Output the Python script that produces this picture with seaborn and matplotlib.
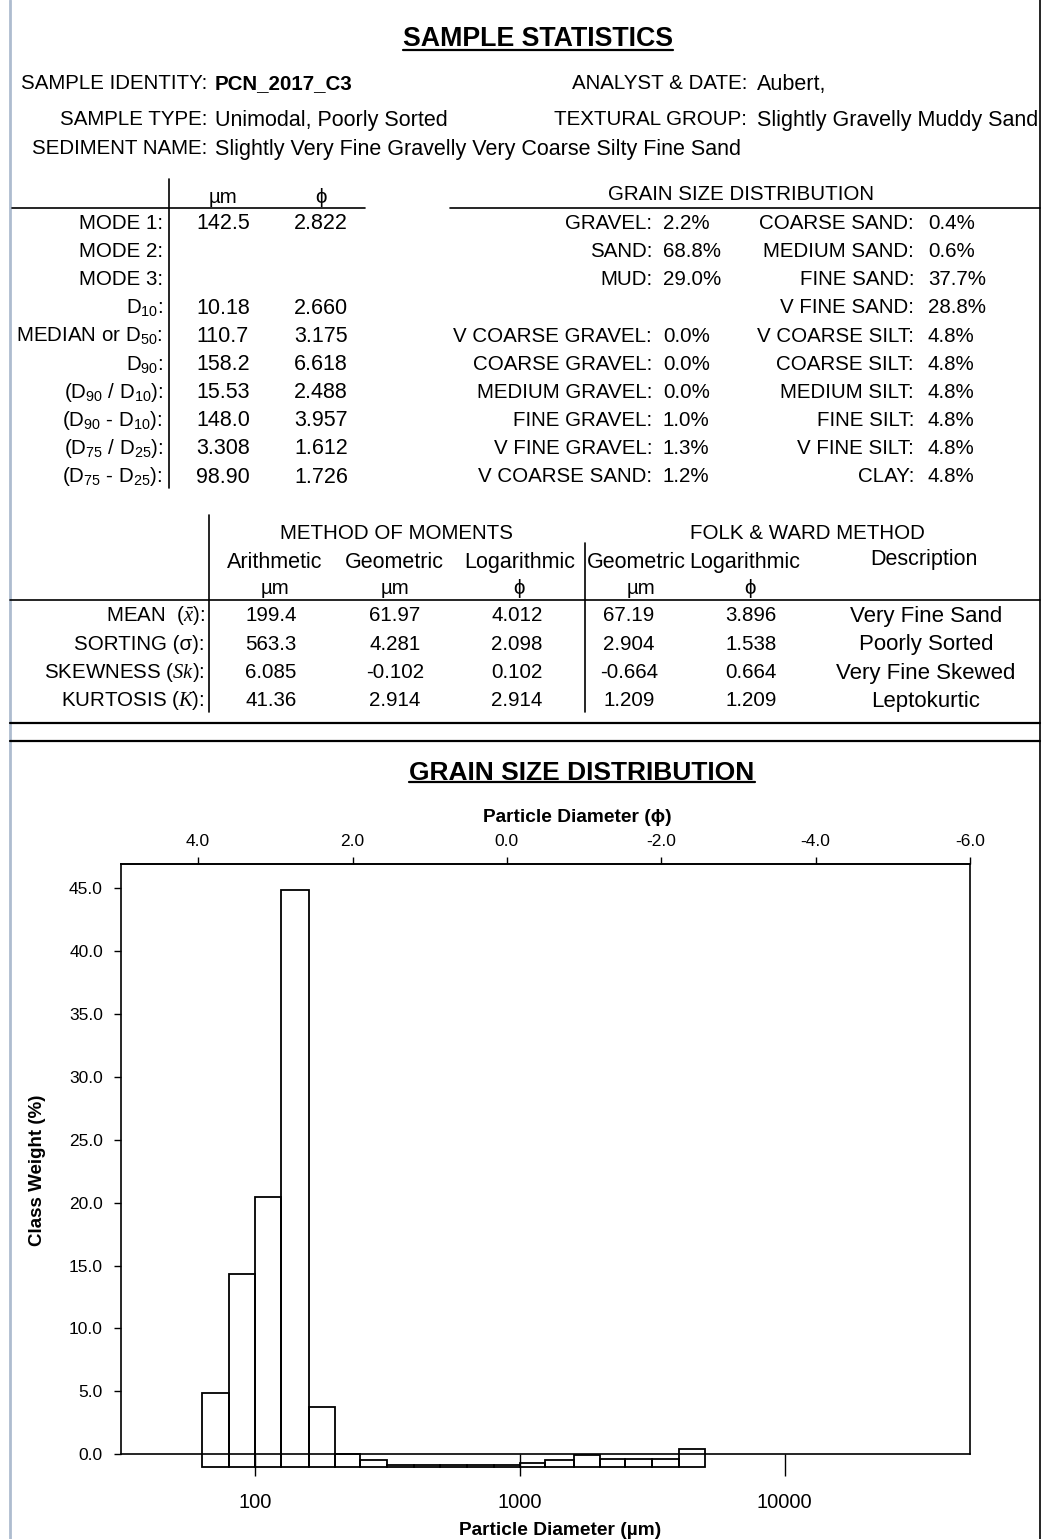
import numpy as np
import seaborn as sns
import matplotlib.pyplot as plt
from matplotlib.lines import Line2D
from matplotlib.ticker import FixedLocator, FixedFormatter, NullLocator

# ---- sample header ----
ident_labels = ["SAMPLE IDENTITY:", "SAMPLE TYPE:", "SEDIMENT NAME:"]
ident_values = ["PCN_2017_C3", "Unimodal, Poorly Sorted",
                "Slightly Very Fine Gravelly Very Coarse Silty Fine Sand"]
info_labels = ["ANALYST & DATE:", "TEXTURAL GROUP:"]
info_values = ["Aubert,", "Slightly Gravelly Muddy Sand"]

# ---- percentiles / modes ----
stat_labels = ["MODE 1:", "MODE 2:", "MODE 3:", r"D$_{10}$:", r"MEDIAN or D$_{50}$:",
               r"D$_{90}$:", r"(D$_{90}$ / D$_{10}$):", r"(D$_{90}$ - D$_{10}$):",
               r"(D$_{75}$ / D$_{25}$):", r"(D$_{75}$ - D$_{25}$):"]
stat_um = ["142.5", "", "", "10.18", "110.7", "158.2", "15.53", "148.0", "3.308", "98.90"]
stat_phi = ["2.822", "", "", "2.660", "3.175", "6.618", "2.488", "3.957", "1.612", "1.726"]

# ---- grain size fractions (%) ----
gsd_left_labels = ["GRAVEL:", "SAND:", "MUD:", "", "V COARSE GRAVEL:", "COARSE GRAVEL:",
                   "MEDIUM GRAVEL:", "FINE GRAVEL:", "V FINE GRAVEL:", "V COARSE SAND:"]
gsd_left_values = [2.2, 68.8, 29.0, None, 0.0, 0.0, 0.0, 1.0, 1.3, 1.2]
gsd_right_labels = ["COARSE SAND:", "MEDIUM SAND:", "FINE SAND:", "V FINE SAND:",
                    "V COARSE SILT:", "COARSE SILT:", "MEDIUM SILT:", "FINE SILT:",
                    "V FINE SILT:", "CLAY:"]
gsd_right_values = [0.4, 0.6, 37.7, 28.8, 4.8, 4.8, 4.8, 4.8, 4.8, 4.8]

# ---- moments / folk & ward ----
mom_labels = [r"MEAN  ($\bar{x}$):", "SORTING (σ):", r"SKEWNESS ($Sk$):", r"KURTOSIS ($K$):"]
mom_arith = ["199.4", "563.3", "6.085", "41.36"]
mom_geo = ["61.97", "4.281", "-0.102", "2.914"]
mom_log = ["4.012", "2.098", "0.102", "2.914"]
fw_geo = ["67.19", "2.904", "-0.664", "1.209"]
fw_log = ["3.896", "1.538", "0.664", "1.209"]
fw_desc = ["Very Fine Sand", "Poorly Sorted", "Very Fine Skewed", "Leptokurtic"]
col_heads = ["Arithmetic", "Geometric", "Logarithmic", "Geometric", "Logarithmic"]
col_units = ["µm", "µm", "ϕ", "µm", "ϕ"]

# ---- histogram (sieve classes, µm) ----
bin_edges = [63, 80, 100, 125, 160, 200, 250, 315, 400, 500, 630, 800,
             1000, 1250, 1600, 2000, 2500, 3150, 4000, 5000]
class_weight = [5.88, 15.29, 21.46, 45.84, 4.76, 0.98, 0.53, 0.1, 0.1, 0.1, 0.1, 0.1,
                0.31, 0.53, 0.93, 0.61, 0.61, 0.61, 1.40]
bar_base = -0.98      # excel draws the bars from just below the 0 line
phi_ticks = [4, 2, 0, -2, -4, -6]
um_ticks = [100, 1000, 10000]

W, H = 1045, 1539

sns.set_style("ticks")
plt.rcParams['font.family'] = ['Liberation Sans', 'DejaVu Sans']
plt.rcParams['mathtext.fontset'] = 'custom'
plt.rcParams['mathtext.rm'] = 'Liberation Sans'
plt.rcParams['mathtext.it'] = 'Liberation Serif:italic'
plt.rcParams['mathtext.bf'] = 'Liberation Sans:bold'
for k in ['text.color', 'axes.labelcolor', 'xtick.color', 'ytick.color', 'axes.edgecolor']:
    plt.rcParams[k] = 'black'

fig = plt.figure(figsize=(W / 100, H / 100), dpi=100)


def fx(x):
    return x / W


def fy(y):
    return 1 - y / H


FS = 14.8     # capitals / numbers
FS_LC = 15.5  # mixed case text renders a bit wider in the original


def txt(x, y, s, ha='left', size=FS, **kw):
    # y is the visual centre of the capitals, in pixels from the top
    base = y + 0.36 * size * 100 / 72
    return fig.text(fx(x), fy(base), s, ha=ha, va='baseline', fontsize=size, **kw)


def hline(x0, x1, y, lw=1.2):
    fig.add_artist(Line2D([fx(x0), fx(x1)], [fy(y), fy(y)], color='black', lw=lw))


def vline(x, y0, y1, lw=1.2, color='black'):
    fig.add_artist(Line2D([fx(x), fx(x)], [fy(y0), fy(y1)], color=color, lw=lw))


# page borders
vline(10, 0, H, lw=2, color='#aebccf')
vline(1040, 0, H, lw=1.2)

# titles
t1 = txt(538, 36, "SAMPLE STATISTICS", ha='center', size=19.3, fontweight='bold')
t2 = txt(582, 770, "GRAIN SIZE DISTRIBUTION", ha='center', size=19, fontweight='bold')

# header block
for lab, val, y in zip(ident_labels, ident_values, [82, 118, 147]):
    txt(207, y, lab, ha='right')
    if y == 82:
        txt(215, y, val, fontweight='bold')
    else:
        txt(215, y, val, size=FS_LC)
for lab, val, y in zip(info_labels, info_values, [82, 118]):
    txt(747, y, lab, ha='right')
    txt(757, y, val, size=FS_LC)

# left stats table
txt(223, 196, "µm", ha='center')
txt(321, 196, "ϕ", ha='center')
hline(12, 365, 208)
vline(169, 179, 488)
for i, (lab, a, b) in enumerate(zip(stat_labels, stat_um, stat_phi)):
    y = 221.5 + 28.15 * i
    txt(163, y, lab, ha='right')
    txt(223, y, a, ha='center', size=15.5)
    txt(321, y, b, ha='center', size=15.5)

# grain size distribution table
txt(741, 193, "GRAIN SIZE DISTRIBUTION", ha='center')
hline(450, 1040, 208)
for i in range(len(gsd_left_labels)):
    y = 221.5 + 28.15 * i
    if gsd_left_values[i] is not None:
        txt(652, y, gsd_left_labels[i], ha='right')
        txt(663, y, f"{gsd_left_values[i]:.1f}%")
    txt(914, y, gsd_right_labels[i], ha='right')
    txt(928, y, f"{gsd_right_values[i]:.1f}%")

# moments table
vline(209, 515, 712)
vline(585, 543, 712)
txt(397, 532, "METHOD OF MOMENTS", ha='center')
txt(807, 532, "FOLK & WARD METHOD", ha='center')
head_x = [275, 394, 520, 636, 745]
unit_x = [275, 395, 519, 641, 750]
val_x = [271, 395, 517, 629, 751]
for hx, ux, h, u in zip(head_x, unit_x, col_heads, col_units):
    txt(hx, 560, h, ha='center', size=FS_LC)
    txt(ux, 587, u, ha='center')
txt(924, 557, "Description", ha='center', size=FS_LC)
hline(10, 1040, 600)
cols = [mom_arith, mom_geo, mom_log, fw_geo, fw_log]
for i, lab in enumerate(mom_labels):
    y = 614 + 28.3 * i
    txt(205, y, lab, ha='right')
    for vx, col in zip(val_x, cols):
        txt(vx, y, col[i], ha='center')
    txt(926, y, fw_desc[i], ha='center', size=16)
hline(10, 1040, 723, lw=1.6)
hline(10, 1040, 741, lw=1.6)

# ---- histogram ----
ytop = 46.9
ybot = -1.1
ax_top, ax_bot = 864.3, 1468.1
ax = fig.add_axes([fx(121), fy(ax_bot), fx(970) - fx(121), (ax_bot - ax_top) / H])

edges = np.array(bin_edges, dtype=float)
centers = np.sqrt(edges[:-1] * edges[1:])
sns.histplot(x=centers, weights=np.array(class_weight), bins=list(np.log10(edges)),
             log_scale=True, fill=False, color='black', linewidth=1.3, ax=ax)
for p in ax.patches:
    p.set_y(bar_base)

ax.set_xlim(31.18, 50120)
ax.set_ylim(ybot, ytop)
ax.xaxis.set_major_locator(FixedLocator(um_ticks))
ax.xaxis.set_major_formatter(FixedFormatter([str(t) for t in um_ticks]))
ax.xaxis.set_minor_locator(NullLocator())
ax.set_yticks(np.arange(0, 46, 5))
ax.set_yticklabels([f"{v:.1f}" for v in np.arange(0, 46, 5)])
ax.spines['bottom'].set_position(('data', 0))
ax.spines['left'].set_bounds(0, ytop)
ax.spines['right'].set_bounds(0, ytop)
for s in ax.spines.values():
    s.set_linewidth(1.2)
ax.tick_params(axis='x', direction='out', length=15.8, width=1, pad=12, labelsize=14.5)
ax.tick_params(axis='y', direction='out', length=5, width=1, pad=8, labelsize=12.5)

ax.set_xlabel("Particle Diameter (µm)", fontsize=13.8, fontweight='bold')
ax.xaxis.set_label_coords((560 - 121) / 849, (ax_bot - 1522) / (ax_bot - ax_top))
ax.set_ylabel("Class Weight (%)", fontsize=13.5, fontweight='bold')
ax.yaxis.set_label_coords((38 - 121) / 849, (ax_bot - 1170) / (ax_bot - ax_top))
ax.yaxis.label.set_va('center')

ax2 = ax.twiny()
ax2.set_xlim(5, -6)
ax2.set_xticks(phi_ticks)
ax2.set_xticklabels([f"{t:.1f}" for t in phi_ticks])
ax2.xaxis.set_minor_locator(NullLocator())
for side in ['left', 'right', 'bottom']:
    ax2.spines[side].set_visible(False)
ax2.spines['top'].set_linewidth(1.2)
ax2.tick_params(axis='x', direction='out', length=5, width=1, pad=6, labelsize=12.5)
ax2.set_xlabel("Particle Diameter (ϕ)", fontsize=13.8, fontweight='bold')
ax2.xaxis.set_label_coords((577 - 121) / 849, (ax_bot - 817) / (ax_bot - ax_top))
ax2.xaxis.label.set_va('center')

# underline the section titles
fig.canvas.draw()
for t, uy in [(t1, 49.5), (t2, 782)]:
    bb = t.get_window_extent()
    hline(bb.x0, bb.x1, uy, lw=1.6)

fig.savefig("out.png", dpi=100)
